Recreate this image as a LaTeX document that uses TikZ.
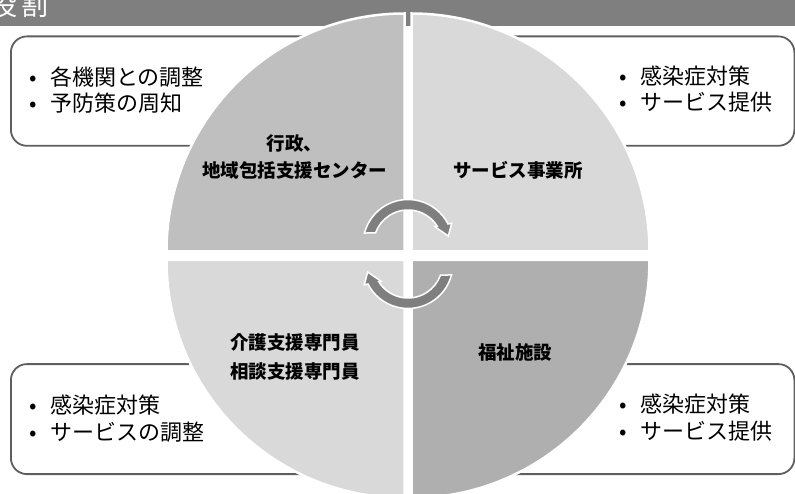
\documentclass[tikz,border=0pt]{standalone}
\usepackage{fontspec}
\setmainfont{Noto Sans CJK JP}
\definecolor{barc}{HTML}{7F7F7F}
\definecolor{boxc}{HTML}{5F5F5F}
\definecolor{tlc}{HTML}{BFBFBF}
\definecolor{ltc}{HTML}{D9D9D9}
\definecolor{brc}{HTML}{AFAFAF}
\definecolor{arrc}{HTML}{7F7F7F}
\begin{document}
\begin{tikzpicture}[x=1pt,y=1pt,
  quad/.style={draw=white,line width=2.5pt},
  infobox/.style={draw=boxc,line width=1.8pt,rounded corners=16pt,fill=white,inner sep=0pt,anchor=south west},
  lst/.style={inner sep=0pt,anchor=west,align=left,font=\fontsize{22}{26.7}\selectfont,text=black},
  lbl/.style={inner sep=0pt,align=center,text=black},
  cyc/.style={fill=arrc,draw=white,line width=1.5pt}]
\useasboundingbox (0,0) rectangle (795,493);
\clip (0,0) rectangle (795,493);
% header bar
\fill[barc] (0,467) rectangle (795,493);
\node[anchor=base west,inner sep=0pt,text=white,font=\fontsize{27}{27}\selectfont] (title) at (-10,477) {役\kern4pt割};
% info boxes
\node[infobox,minimum width=385pt,minimum height=109.4pt] (boxTL) at (10,346.3) {};
\node[infobox,minimum width=373.5pt,minimum height=109.4pt] (boxTR) at (420,346.3) {};
\node[infobox,minimum width=385pt,minimum height=110pt] (boxBL) at (10,18) {};
\node[infobox,minimum width=373.5pt,minimum height=110pt] (boxBR) at (420,18) {};
% lists
\node[lst] (listTL) at (29,403) {\makebox[21pt][l]{•}各機関との調整\\\makebox[21pt][l]{•}予防策の周知};
\node[lst] (listTR) at (619,403.8) {\makebox[21pt][l]{•}感染症対策\\\makebox[21pt][l]{•}サービス提供};
\node[lst] (listBL) at (29,74.7) {\makebox[21pt][l]{•}感染症対策\\\makebox[21pt][l]{•}サービスの調整};
\node[lst] (listBR) at (619,75.5) {\makebox[21pt][l]{•}感染症対策\\\makebox[21pt][l]{•}サービス提供};
% quadrants
\filldraw[quad,fill=tlc] (404.5,241.5) -- ++(0,238) arc[start angle=90,end angle=180,radius=238] -- cycle;
\filldraw[quad,fill=ltc] (411.5,241.5) -- ++(0,238) arc[start angle=90,end angle=0,radius=238] -- cycle;
\filldraw[quad,fill=ltc] (404.5,233) -- ++(-238,0) arc[start angle=180,end angle=270,radius=238] -- cycle;
\filldraw[quad,fill=brc] (411.5,233) -- ++(0,-238) arc[start angle=270,end angle=360,radius=238] -- cycle;
% labels
\node[lbl,font=\fontsize{18.5}{27}\selectfont\bfseries] (labTL) at (294.5,336.5) {行政、\\地域包括支援センター};
\node[lbl,font=\fontsize{18.5}{27}\selectfont\bfseries] (labTR) at (518,323) {サービス事業所};
\node[lbl,font=\fontsize{18.5}{29.5}\selectfont\bfseries] (labBL) at (295,136.2) {介護支援専門員\\相談支援専門員};
\node[lbl,font=\fontsize{18.5}{27}\selectfont\bfseries] (labBR) at (515,141) {福祉施設};
% circular arrows
\foreach \r in {0,180}{
  \begin{scope}[rotate around={\r:(408,239)},shift={(408,248.5)}]
    \filldraw[cyc] (165.2:45) arc[start angle=165.2,end angle=27.1,radius=45]
      -- (25.9:48.6) -- (11.9:41.2) -- (33.4:32.3) -- (32:34.5)
      arc[start angle=32,end angle=160.5,radius=34.5] -- cycle;
  \end{scope}
}
\end{tikzpicture}
\end{document}
